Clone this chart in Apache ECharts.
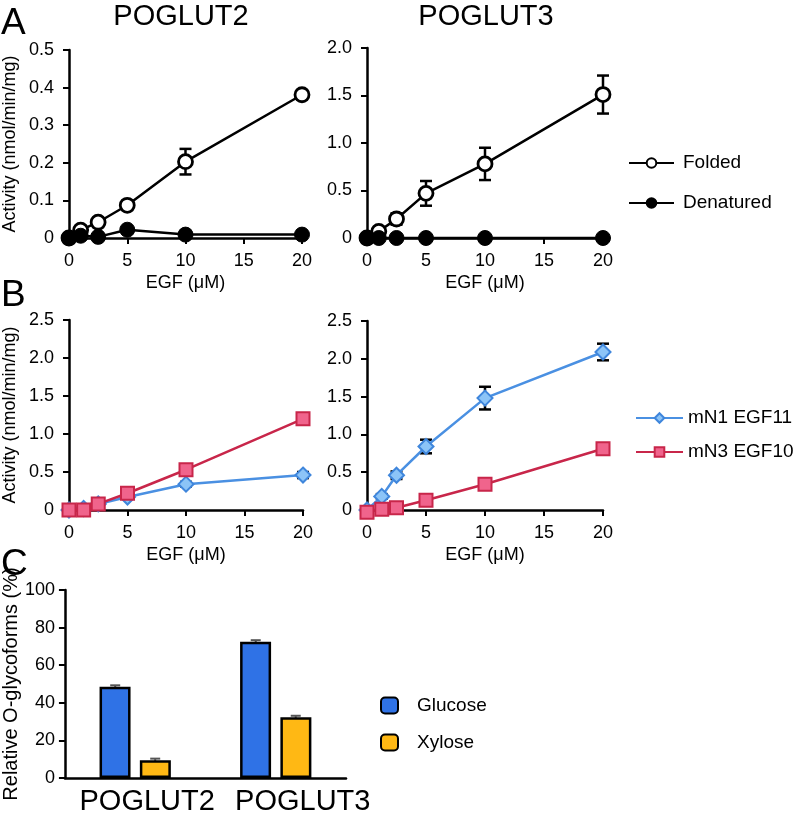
<!DOCTYPE html>
<html>
<head>
<meta charset="utf-8">
<script src="https://cdn.jsdelivr.net/npm/echarts@6/dist/echarts.min.js"></script>
<style>
html,body{margin:0;padding:0;background:#fff;}
#chart{width:793px;height:816px;}
</style>
</head>
<body>
<div id="chart"></div>
<script>
// ---------- DATA ----------
const egfA = [0, 1, 2.5, 5, 10, 20];
const egfB = [0, 1.25, 2.5, 5, 10, 20];

const p2Folded = [0, 0.021, 0.042, 0.087, 0.203, 0.381];
const p2FoldedErr = [0, 0.004, 0.004, 0.011, 0.034, 0.012];
const p2Denatured = [0, 0.006, 0.003, 0.022, 0.009, 0.009];

const p3Folded = [0, 0.07, 0.2, 0.47, 0.78, 1.51];
const p3FoldedErr = [0, 0.02, 0.06, 0.13, 0.17, 0.2];
const p3Denatured = [0, 0, 0, 0, 0, 0];

const p2mN1 = [0, 0.02, 0.08, 0.17, 0.34, 0.46];
const p2mN1Err = [0, 0, 0, 0.02, 0.03, 0.04];
const p2mN3 = [0, 0.0, 0.08, 0.22, 0.53, 1.2];
const p2mN3Err = [0, 0, 0, 0.02, 0.03, 0.03];

const p3mN1 = [0, 0.18, 0.46, 0.84, 1.48, 2.09];
const p3mN1Err = [0, 0.03, 0.05, 0.09, 0.15, 0.11];
const p3mN3 = [-0.03, 0.01, 0.03, 0.13, 0.34, 0.81];
const p3mN3Err = [0, 0, 0, 0.02, 0.03, 0.07];

const enzymes = ['POGLUT2', 'POGLUT3'];
const glucose = [48.5, 72.5];
const glucoseErr = [0.8, 0.8];
const xylose = [9.5, 32.3];
const xyloseErr = [0.8, 0.8];

// ---------- HELPERS ----------
const FONT = 'Liberation Sans, Arial, Helvetica, sans-serif';
const pairs = (xs, ys) => xs.map((x, i) => [x, ys[i]]);
const errData = (xs, ys, es) => xs.map((x, i) => [x, ys[i] - es[i], ys[i] + es[i]]).filter((d, i) => es[i] > 0);
const fmt = v => v === 0 ? '0' : v.toFixed(1);

function errRender(color, cap, lw) {
  return function (params, api) {
    const x = api.value(0);
    const lo = api.coord([x, api.value(1)]);
    const hi = api.coord([x, api.value(2)]);
    const st = { stroke: color, lineWidth: lw };
    return {
      type: 'group', children: [
        { type: 'line', shape: { x1: lo[0], y1: lo[1], x2: hi[0], y2: hi[1] }, style: st },
        { type: 'line', shape: { x1: hi[0] - cap, y1: hi[1], x2: hi[0] + cap, y2: hi[1] }, style: st },
        { type: 'line', shape: { x1: lo[0] - cap, y1: lo[1], x2: lo[0] + cap, y2: lo[1] }, style: st }
      ]
    };
  };
}
function barErrRender(offset) {
  return function (params, api) {
    const c = api.value(0);
    const lo = api.coord([c, api.value(1)]);
    const hi = api.coord([c, api.value(2)]);
    const x = lo[0] + offset;
    const st = { stroke: '#555', lineWidth: 2 };
    return {
      type: 'group', children: [
        { type: 'line', shape: { x1: x, y1: lo[1], x2: x, y2: hi[1] }, style: st },
        { type: 'line', shape: { x1: x - 5, y1: hi[1], x2: x + 5, y2: hi[1] }, style: st }
      ]
    };
  };
}

const axisLine = { show: true, lineStyle: { color: '#000', width: 2.5 } };
const axisTick = { show: true, length: 6, lineStyle: { color: '#000', width: 2 } };

function xAxisEGF(gi) {
  return {
    type: 'value', gridIndex: gi, min: 0, max: 20, interval: 5,
    name: 'EGF (\u03bcM)', nameLocation: 'middle', nameGap: 36,
    nameTextStyle: { fontSize: 18, fontFamily: FONT, color: '#000' },
    axisLine, axisTick,
    axisLabel: { fontSize: 18, fontFamily: FONT, color: '#000', margin: 14 },
    splitLine: { show: false }
  };
}
function yAxisAct(gi, max, interval, withName) {
  return {
    type: 'value', gridIndex: gi, min: 0, max: max, interval: interval,
    name: withName ? 'Activity (nmol/min/mg)' : '', nameLocation: 'middle', nameGap: 50,
    nameTextStyle: { fontSize: 18, fontFamily: FONT, color: '#000' },
    axisLine, axisTick,
    axisLabel: { fontSize: 18, fontFamily: FONT, color: '#000', margin: 15, formatter: fmt },
    splitLine: { show: false }
  };
}

const blackLine = { color: '#000', width: 2.5 };
function foldedSeries(gi, xs, ys) {
  return {
    name: 'Folded', type: 'line', xAxisIndex: gi, yAxisIndex: gi, data: pairs(xs, ys),
    symbol: 'circle', symbolSize: 14, clip: false, z: 3,
    lineStyle: blackLine, itemStyle: { color: '#fff', borderColor: '#000', borderWidth: 2.8 }
  };
}
function denaturedSeries(gi, xs, ys) {
  return {
    name: 'Denatured', type: 'line', xAxisIndex: gi, yAxisIndex: gi, data: pairs(xs, ys),
    symbol: 'circle', symbolSize: 15, clip: false, z: 4,
    lineStyle: blackLine, itemStyle: { color: '#000', borderColor: '#000', borderWidth: 1 }
  };
}
function mN1Series(gi, xs, ys) {
  return {
    name: 'mN1 EGF11', type: 'line', xAxisIndex: gi, yAxisIndex: gi, data: pairs(xs, ys),
    symbol: 'diamond', symbolSize: 15, clip: false, z: 3,
    lineStyle: { color: '#4a90e2', width: 2.5 },
    itemStyle: { color: '#8cc4f7', borderColor: '#3f86dc', borderWidth: 2 }
  };
}
function mN3Series(gi, xs, ys) {
  return {
    name: 'mN3 EGF10', type: 'line', xAxisIndex: gi, yAxisIndex: gi, data: pairs(xs, ys),
    symbol: 'rect', symbolSize: 13, clip: false, z: 4,
    lineStyle: { color: '#c8264a', width: 2.5 },
    itemStyle: { color: '#f0648c', borderColor: '#c8264a', borderWidth: 2 }
  };
}
function errSeries(gi, xs, ys, es) {
  return {
    type: 'custom', xAxisIndex: gi, yAxisIndex: gi, data: errData(xs, ys, es),
    renderItem: errRender('#000', 6, 2.5), encode: { x: 0, y: [1, 2] }, z: 2, clip: false, silent: true
  };
}

const chart = echarts.init(document.getElementById('chart'), null, { renderer: 'canvas' });

const option = {
  backgroundColor: '#fff',
  animation: false,
  textStyle: { fontFamily: FONT },
  grid: [
    { left: 66, top: 50, width: 236, height: 188 },
    { left: 367, top: 48, width: 236, height: 190 },
    { left: 65, top: 320, width: 238, height: 190 },
    { left: 367, top: 321, width: 236, height: 189 },
    { left: 62, top: 590, width: 284, height: 189 }
  ],
  xAxis: [
    xAxisEGF(0), xAxisEGF(1), xAxisEGF(2), xAxisEGF(3),
    {
      type: 'category', gridIndex: 4, data: enzymes,
      axisLine, axisTick: { show: false },
      axisLabel: {
        interval: 0, hideOverlap: false, color: '#000', margin: 9,
        formatter: (v, i) => (i === 0 ? '{a|' : '{b|') + v + '}',
        rich: {
          a: { fontSize: 29, fontFamily: FONT, color: '#000', padding: [0, 0, 0, 24] },
          b: { fontSize: 29, fontFamily: FONT, color: '#000', padding: [0, 0, 0, 54] }
        }
      }
    }
  ],
  yAxis: [
    yAxisAct(0, 0.5, 0.1, true), yAxisAct(1, 2.0, 0.5, false),
    yAxisAct(2, 2.5, 0.5, true), yAxisAct(3, 2.5, 0.5, false),
    {
      type: 'value', gridIndex: 4, min: 0, max: 100, interval: 20,
      name: 'Relative O-glycoforms (%)', nameLocation: 'middle', nameGap: 42,
      nameTextStyle: { fontSize: 20, fontFamily: FONT, color: '#000' },
      axisLine, axisTick,
      axisLabel: { fontSize: 18, fontFamily: FONT, color: '#000', margin: 10 },
      splitLine: { show: false }
    }
  ],
  legend: [
    {
      data: ['Folded', 'Denatured'], orient: 'vertical', left: 628, top: 153, padding: 0,
      itemWidth: 45, itemHeight: 12, itemGap: 20,
      textStyle: { fontSize: 19, fontFamily: FONT, color: '#000', padding: [0, 0, 0, 4], lineHeight: 20 }
    },
    {
      data: ['mN1 EGF11', 'mN3 EGF10'], orient: 'vertical', left: 635, top: 408, padding: 0,
      itemWidth: 47, itemHeight: 12, itemGap: 14,
      textStyle: { fontSize: 19, fontFamily: FONT, color: '#000', lineHeight: 20 }
    },
    {
      data: ['Glucose', 'Xylose'], orient: 'vertical', left: 380, top: 696, padding: 0,
      itemWidth: 17, itemHeight: 16, itemGap: 18,
      textStyle: { fontSize: 19, fontFamily: FONT, color: '#000', padding: [0, 0, 0, 14] }
    }
  ],
  graphic: [
    { type: 'text', x: 181, y: 17, style: { text: 'POGLUT2', fontSize: 29, fontFamily: FONT, fill: '#000', textAlign: 'center', textVerticalAlign: 'middle' } },
    { type: 'text', x: 486, y: 17, style: { text: 'POGLUT3', fontSize: 29, fontFamily: FONT, fill: '#000', textAlign: 'center', textVerticalAlign: 'middle' } },
    { type: 'text', x: 1, y: 24, style: { text: 'A', fontSize: 37, fontFamily: FONT, fill: '#000', textVerticalAlign: 'middle' } },
    { type: 'text', x: 1, y: 296, style: { text: 'B', fontSize: 37, fontFamily: FONT, fill: '#000', textVerticalAlign: 'middle' } },
    { type: 'text', x: 1, y: 565, style: { text: 'C', fontSize: 37, fontFamily: FONT, fill: '#000', textVerticalAlign: 'middle' } }
  ],
  series: [
    errSeries(0, egfA, p2Folded, p2FoldedErr),
    foldedSeries(0, egfA, p2Folded),
    denaturedSeries(0, egfA, p2Denatured),
    errSeries(1, egfA, p3Folded, p3FoldedErr),
    foldedSeries(1, egfA, p3Folded),
    denaturedSeries(1, egfA, p3Denatured),
    errSeries(2, egfB, p2mN1, p2mN1Err),
    errSeries(2, egfB, p2mN3, p2mN3Err),
    mN1Series(2, egfB, p2mN1),
    mN3Series(2, egfB, p2mN3),
    errSeries(3, egfB, p3mN1, p3mN1Err),
    errSeries(3, egfB, p3mN3, p3mN3Err),
    mN1Series(3, egfB, p3mN1),
    mN3Series(3, egfB, p3mN3),
    {
      name: 'Glucose', type: 'bar', xAxisIndex: 4, yAxisIndex: 4, data: glucose,
      barWidth: 31, barGap: '30%',
      itemStyle: { color: '#2f72e6', borderColor: '#000', borderWidth: 2.5 }
    },
    {
      name: 'Xylose', type: 'bar', xAxisIndex: 4, yAxisIndex: 4, data: xylose,
      barWidth: 31,
      itemStyle: { color: '#ffb814', borderColor: '#000', borderWidth: 2.5 }
    },
    {
      type: 'custom', xAxisIndex: 4, yAxisIndex: 4, silent: true, z: 1,
      data: enzymes.map((c, i) => [i, glucose[i] - glucoseErr[i], glucose[i] + glucoseErr[i]]),
      renderItem: barErrRender(-20), encode: { x: 0, y: [1, 2] }
    },
    {
      type: 'custom', xAxisIndex: 4, yAxisIndex: 4, silent: true, z: 1,
      data: enzymes.map((c, i) => [i, xylose[i] - xyloseErr[i], xylose[i] + xyloseErr[i]]),
      renderItem: barErrRender(20), encode: { x: 0, y: [1, 2] }
    }
  ]
};
chart.setOption(option);
</script>
</body>
</html>
